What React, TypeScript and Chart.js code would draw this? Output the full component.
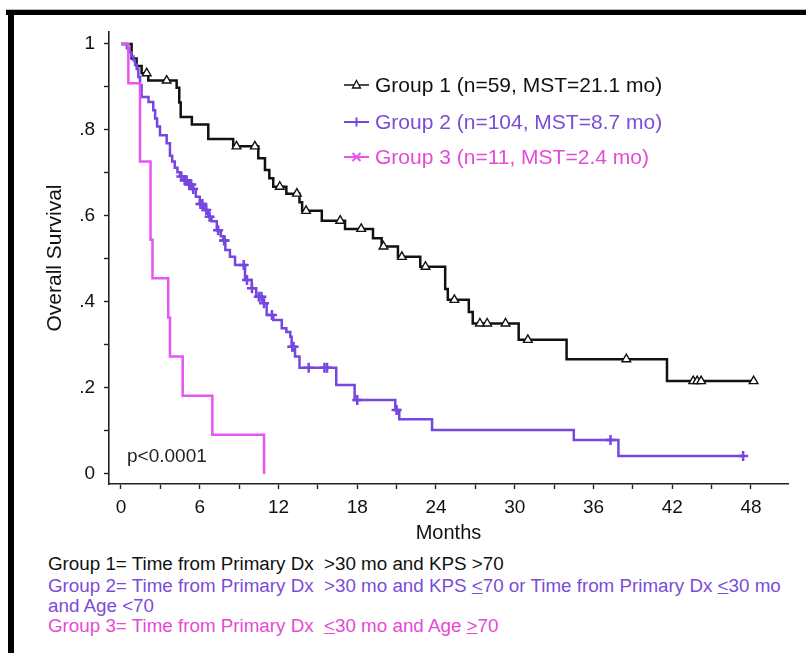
import React, { useEffect, useRef } from 'react';
import { Chart, registerables } from 'chart.js';

Chart.register(...registerables);

const FONT = '"Liberation Sans", Arial, Helvetica, sans-serif';

const BLACK = '#111111';
const PURPLE = '#7646e0';
const PINK = '#e655f2';
const PURPLE_TEXT = '#7b4cd8';
const PINK_TEXT = '#e54ad6';

// Group 1: event times (months) and survival after each step
const g1Times = [0, 0.81, 1.19, 1.57, 2.08, 4.24, 4.44, 4.55, 5.4, 6.65, 8.55, 10.46, 10.97, 11.3, 11.6, 12.6, 13.6, 13.8, 15.3, 17.07, 19.2, 19.86, 21.1, 22.8, 24.7, 24.9, 26.5, 26.8, 30.3, 33.95, 41.6, 48.2];
const g1Surv = [1, 0.966, 0.949, 0.932, 0.915, 0.898, 0.864, 0.83, 0.813, 0.779, 0.762, 0.734, 0.707, 0.688, 0.668, 0.652, 0.632, 0.612, 0.589, 0.57, 0.548, 0.529, 0.505, 0.482, 0.43, 0.405, 0.377, 0.35, 0.312, 0.267, 0.216, 0.216];
const g1Censor = [1.96, 3.48, 8.8, 10.2, 12.1, 13.4, 14.1, 16.7, 18.3, 20.0, 21.4, 23.2, 25.4, 27.35, 27.9, 29.3, 31.0, 38.5, 43.6, 43.9, 44.2, 48.2];

// Group 2
const g2Times = [0, 0.45, 0.6, 0.8, 0.95, 1.07, 1.2, 1.32, 1.45, 1.57, 2.1, 2.46, 2.6, 2.75, 2.97, 3.48, 3.73, 3.9, 4.1, 4.3, 4.5, 4.8, 5.1, 5.4, 5.7, 6.0, 6.3, 6.65, 6.9, 7.3, 7.6, 7.8, 7.95, 8.3, 8.69, 9.45, 9.96, 10.3, 10.84, 11.1, 11.6, 12.25, 12.6, 12.9, 13.0, 13.26, 13.6, 16.4, 17.8, 20.9, 21.2, 23.7, 34.5, 37.9, 47.4];
const g2Surv = [1, 0.99, 0.981, 0.971, 0.962, 0.952, 0.942, 0.923, 0.904, 0.877, 0.865, 0.846, 0.827, 0.808, 0.788, 0.769, 0.74, 0.727, 0.712, 0.702, 0.692, 0.683, 0.673, 0.663, 0.645, 0.628, 0.614, 0.598, 0.588, 0.567, 0.553, 0.543, 0.521, 0.505, 0.486, 0.451, 0.432, 0.412, 0.397, 0.37, 0.358, 0.339, 0.33, 0.319, 0.296, 0.273, 0.247, 0.207, 0.172, 0.149, 0.127, 0.102, 0.079, 0.042, 0.042];
const g2Censor = [4.6, 4.85, 5.0, 5.2, 5.35, 5.5, 6.05, 6.2, 6.5, 6.75, 7.4, 7.85, 7.9, 9.35, 9.6, 9.98, 10.5, 10.7, 10.9, 11.5, 13.05, 13.15, 14.3, 15.5, 15.7, 18.0, 21.0, 37.3, 47.4];

// Group 3
const g3Times = [0, 0.56, 1.45, 2.25, 2.4, 3.6, 3.73, 4.7, 6.96, 10.9];
const g3Surv = [1, 0.909, 0.727, 0.545, 0.455, 0.364, 0.273, 0.182, 0.091, 0];

// Axis ticks
const xTickValues = [0, 3, 6, 9, 12, 15, 18, 21, 24, 27, 30, 33, 36, 39, 42, 45, 48];
const xLabelValues = [0, 6, 12, 18, 24, 30, 36, 42, 48];
const xTickLabels = ['0', '6', '12', '18', '24', '30', '36', '42', '48'];
const yTickValues = [0, 0.1, 0.2, 0.3, 0.4, 0.5, 0.6, 0.7, 0.8, 0.9, 1];
const yLabelValues = [0, 0.2, 0.4, 0.6, 0.8, 1];
const yTickLabels = ['0', '.2', '.4', '.6', '.8', '1'];

const legendLabels = [
  'Group 1 (n=59, MST=21.1 mo)',
  'Group 2 (n=104, MST=8.7 mo)',
  'Group 3 (n=11, MST=2.4 mo)',
];

function survAt(times: number[], surv: number[], t: number): number {
  let s = surv[0];
  for (let i = 0; i < times.length; i++) if (times[i] <= t) s = surv[i];
  return s;
}

function pts(times: number[], surv: number[]) {
  return times.map((t, i) => ({ x: t, y: surv[i] }));
}

const U = ({ c }: { c: string }) => <span style={{ textDecoration: 'underline' }}>{c}</span>;

export default function App() {
  const ref = useRef<HTMLCanvasElement>(null);

  useEffect(() => {
    if (!ref.current) return;
    const chart = new Chart(ref.current, {
      type: 'line',
      data: {
        datasets: [
          {
            label: 'g1c',
            data: g1Censor.map((t) => ({ x: t, y: survAt(g1Times, g1Surv, t) })),
            showLine: false,
            pointStyle: 'triangle',
            pointRadius: 5,
            pointBackgroundColor: '#ffffff',
            pointBorderColor: BLACK,
            pointBorderWidth: 1.4,
            order: 0,
          },
          {
            label: 'g2c',
            data: g2Censor.map((t) => ({ x: t, y: survAt(g2Times, g2Surv, t) })),
            showLine: false,
            pointStyle: 'cross',
            pointRadius: 5,
            pointBorderColor: PURPLE,
            pointBorderWidth: 2.5,
            order: 0,
          },
          {
            label: legendLabels[2],
            data: pts(g3Times, g3Surv),
            stepped: 'before',
            borderColor: PINK,
            borderWidth: 2.5,
            pointRadius: 0,
            fill: false,
            order: 1,
          },
          {
            label: legendLabels[1],
            data: pts(g2Times, g2Surv),
            stepped: 'before',
            borderColor: PURPLE,
            borderWidth: 2.5,
            pointRadius: 0,
            fill: false,
            order: 2,
          },
          {
            label: legendLabels[0],
            data: pts(g1Times, g1Surv),
            stepped: 'before',
            borderColor: BLACK,
            borderWidth: 2.5,
            pointRadius: 0,
            fill: false,
            order: 3,
          },
        ],
      },
      options: {
        responsive: false,
        animation: false,
        events: [],
        layout: { padding: { left: 30, top: 32, right: 18, bottom: 0 } },
        plugins: { legend: { display: false }, tooltip: { enabled: false }, title: { display: false } },
        scales: {
          x: {
            type: 'linear',
            min: -0.914,
            max: 50.82,
            afterFit: (s: any) => { s.height = 66; },
            afterBuildTicks: (s: any) => { s.ticks = xTickValues.map((v) => ({ value: v })); },
            ticks: {
              autoSkip: false,
              maxRotation: 0,
              padding: 7,
              color: BLACK,
              font: { family: FONT, size: 19 },
              callback: (v: any) => {
                const i = xLabelValues.indexOf(Number(v));
                return i >= 0 ? xTickLabels[i] : '';
              },
            },
            grid: { drawOnChartArea: false, drawTicks: true, tickLength: 5, tickColor: '#222', tickWidth: 1.4 },
            border: { display: true, color: '#222', width: 1.6 },
            title: { display: true, text: 'Months', color: BLACK, font: { family: FONT, size: 20 }, padding: { top: 0, bottom: 5 } },
          },
          y: {
            type: 'linear',
            min: -0.0233,
            max: 1.0279,
            afterFit: (s: any) => { s.width = 79; },
            afterBuildTicks: (s: any) => { s.ticks = yTickValues.map((v) => ({ value: v })); },
            ticks: {
              autoSkip: false,
              padding: 9,
              color: BLACK,
              font: { family: FONT, size: 19 },
              callback: (v: any) => {
                const n = Number(v);
                const i = yLabelValues.findIndex((x) => Math.abs(x - n) < 1e-6);
                return i >= 0 ? yTickLabels[i] : '';
              },
            },
            grid: { drawOnChartArea: false, drawTicks: true, tickLength: 5, tickColor: '#222', tickWidth: 1.4 },
            border: { display: true, color: '#222', width: 1.6 },
            title: { display: true, text: 'Overall Survival', color: BLACK, font: { family: FONT, size: 21 }, padding: { top: 13, bottom: 0 } },
          },
        },
      },
    } as any);
    return () => chart.destroy();
  }, []);

  const legendRow = (i: number, center: number, color: string, textColor: string) => (
    <div
      key={i}
      style={{
        position: 'absolute', left: 344, top: center - 12, height: 24, display: 'flex', alignItems: 'center',
        font: `21px ${FONT}`, color: textColor, whiteSpace: 'nowrap', lineHeight: '24px',
      }}
    >
      <svg width={26} height={14} style={{ marginRight: 5, display: 'block' }}>
        <line x1={0} y1={7} x2={25} y2={7} stroke={color} strokeWidth={i === 0 ? 1.5 : 2} />
        {i === 0 && <polygon points="12.5,2.5 16.5,10 8.5,10" fill="#fff" stroke={color} strokeWidth={1.3} />}
        {i === 1 && <line x1={12.5} y1={2.5} x2={12.5} y2={11.5} stroke={color} strokeWidth={2} />}
        {i === 2 && (
          <g stroke={color} strokeWidth={2}>
            <line x1={8.5} y1={3} x2={16.5} y2={11} />
            <line x1={16.5} y1={3} x2={8.5} y2={11} />
          </g>
        )}
      </svg>
      <span>{legendLabels[i]}</span>
    </div>
  );

  const noteStyle = (top: number, color: string): React.CSSProperties => ({
    position: 'absolute', left: 48, top, font: `18.8px ${FONT}`, lineHeight: '22px', color, whiteSpace: 'pre',
  });

  return (
    <div style={{ position: 'fixed', left: 0, top: 0, width: 806, height: 653, overflow: 'hidden', background: '#fff' }}>
      <div style={{ position: 'absolute', left: 6, top: 9, width: 800, height: 1, background: '#bbb' }} />
      <div style={{ position: 'absolute', left: 6, top: 10, width: 800, height: 5, background: '#000' }} />
      <div style={{ position: 'absolute', left: 8, top: 10, width: 6, height: 643, background: '#000' }} />
      <canvas ref={ref} width={806} height={550} style={{ position: 'absolute', left: 0, top: 0, display: 'block' }} />
      {legendRow(0, 85, BLACK, BLACK)}
      {legendRow(1, 121.7, PURPLE, PURPLE_TEXT)}
      {legendRow(2, 156.7, PINK, PINK_TEXT)}
      <div style={{ position: 'absolute', left: 127, top: 445, font: `19px ${FONT}`, lineHeight: '22px', color: '#222' }}>p&lt;0.0001</div>
      <div style={noteStyle(553, BLACK)}>{'Group 1= Time from Primary Dx  >30 mo and KPS >70'}</div>
      <div style={noteStyle(574.5, PURPLE_TEXT)}>
        {'Group 2= Time from Primary Dx  >30 mo and KPS '}<U c="<" />{'70 or Time from Primary Dx '}<U c="<" />{'30 mo'}
      </div>
      <div style={noteStyle(594.5, PURPLE_TEXT)}>{'and Age <70'}</div>
      <div style={noteStyle(614.5, PINK_TEXT)}>
        {'Group 3= Time from Primary Dx  '}<U c="<" />{'30 mo and Age '}<U c=">" />{'70'}
      </div>
    </div>
  );
}
